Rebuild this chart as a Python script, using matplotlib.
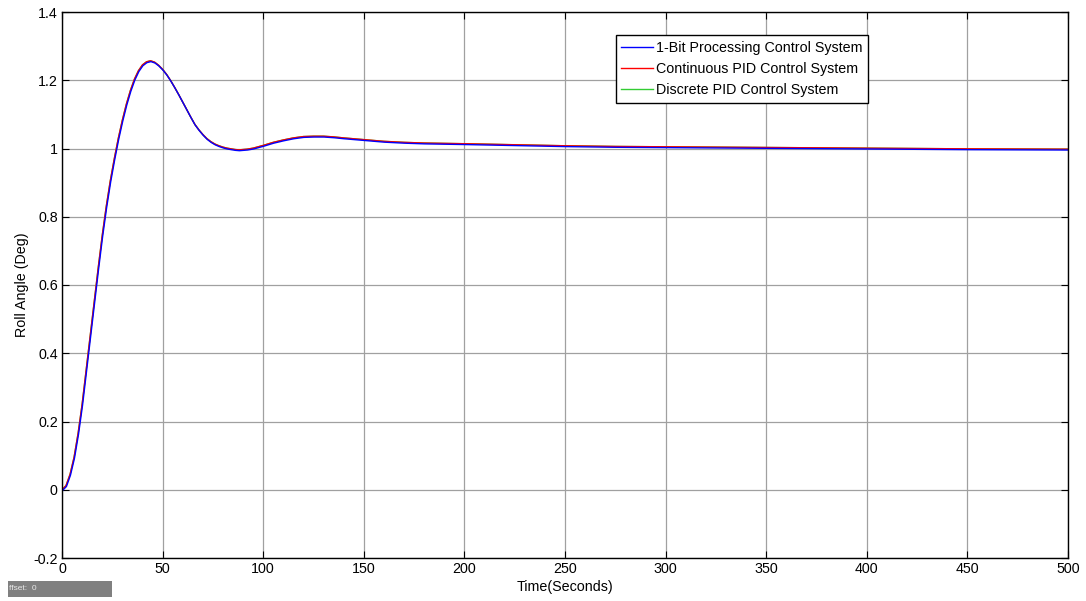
import matplotlib
matplotlib.use("Agg")
import matplotlib.pyplot as plt
import matplotlib.transforms as mtransforms
from matplotlib.patches import Rectangle

plt.rcParams['font.family'] = ['Liberation Sans', 'DejaVu Sans']

# step response (time in s, roll angle in deg)
time_s = [0, 2, 4, 6, 8, 10, 12, 14, 16, 18, 20, 22, 24, 26, 28, 30, 32, 34,
          36, 38, 40, 42, 44, 46, 48, 50, 52, 54, 56, 58, 60, 62, 64, 66, 68,
          70, 72, 74, 76, 78, 80, 82, 84, 86, 88, 90, 92, 95, 100, 105, 110,
          115, 120, 125, 130, 135, 140, 150, 160, 170, 180, 190, 200, 225,
          250, 275, 300, 350, 400, 450, 500]
roll_cont = [0.0, 0.012, 0.045, 0.095, 0.165, 0.25, 0.35, 0.45, 0.55, 0.65,
             0.745, 0.83, 0.905, 0.97, 1.03, 1.083, 1.13, 1.17, 1.203,
             1.228, 1.245, 1.254, 1.257, 1.253, 1.244, 1.232, 1.217, 1.199,
             1.179, 1.158, 1.136, 1.114, 1.092, 1.071, 1.055, 1.041, 1.029,
             1.020, 1.013, 1.008, 1.004, 1.001, 0.999, 0.997, 0.996, 0.997,
             0.998, 1.001, 1.009, 1.018, 1.025, 1.031, 1.035, 1.036, 1.036,
             1.034, 1.031, 1.026, 1.021, 1.018, 1.016, 1.015, 1.014, 1.011,
             1.008, 1.006, 1.005, 1.003, 1.001, 0.999, 0.998]
roll_disc = roll_cont
roll_1bit = roll_cont

labels = ['1-Bit Processing Control System',
          'Continuous PID Control System',
          'Discrete PID Control System']

fs = 10.3

fig = plt.figure(figsize=(10.86, 6.01), dpi=100)
ax = fig.add_axes([62 / 1086, 1 - 558 / 601, 1006 / 1086, 546 / 601])

# blue drawn a hair below the others, as in the original
blue_tr = mtransforms.offset_copy(ax.transData, fig=fig, x=0.3, y=-0.6, units='points')

l_green, = ax.plot(time_s, roll_disc, color='#33cc33', lw=1.0)
l_red, = ax.plot(time_s, roll_cont, color='red', lw=1.0)
l_blue, = ax.plot(time_s, roll_1bit, color='blue', lw=1.0, transform=blue_tr)

ax.set_xlim(0, 500)
ax.set_ylim(-0.2, 1.4)
ax.set_xticks(range(0, 501, 50))
ax.set_yticks([-0.2, 0, 0.2, 0.4, 0.6, 0.8, 1, 1.2, 1.4])
ax.set_yticklabels(['-0.2', '0', '0.2', '0.4', '0.6', '0.8', '1', '1.2', '1.4'])
ax.grid(True, color='#a0a0a0', lw=0.9)
ax.tick_params(direction='in', length=5, top=True, right=True, labelsize=fs,
               width=0.8, pad=3)
for sp in ax.spines.values():
    sp.set_linewidth(1.0)

ax.set_xlabel('Time(Seconds)', fontsize=fs, labelpad=3)
ax.set_ylabel('Roll Angle (Deg)', fontsize=fs, labelpad=3)

leg = ax.legend([l_blue, l_red, l_green], labels, loc='upper right',
                bbox_to_anchor=(0.801, 0.958), fontsize=fs, fancybox=False,
                framealpha=1, edgecolor='black', handlelength=2.2,
                handletextpad=0.2, borderpad=0.4, labelspacing=0.5,
                borderaxespad=0)
leg.get_frame().set_linewidth(1.0)

# grey offset readout box at bottom left
fig.patches.append(Rectangle((8 / 1086, 1 - 597 / 601), 104 / 1086, 16 / 601,
                             transform=fig.transFigure, facecolor='#808080',
                             edgecolor='none'))
fig.text(9 / 1086, 1 - 589 / 601, 'ffset:  0', color='#e8e8e8', fontsize=6,
         va='center', ha='left')

fig.savefig('out.png', dpi=100)
